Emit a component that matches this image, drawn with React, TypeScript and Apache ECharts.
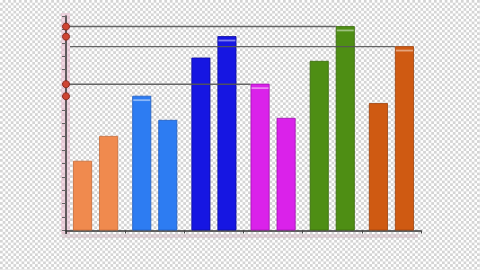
import React, { useEffect, useRef } from "react";
import * as echarts from "echarts";

// Data
const categories = ["1", "2", "3", "4", "5", "6"];
const seriesA = [5.2, 10.05, 12.9, 10.95, 12.65, 9.5];
const seriesB = [7.05, 8.25, 14.5, 8.4, 15.25, 13.75];
const yTicksMax = 16;

// markers: [categoryIndex, seriesIndex]
const highlightBars = [
  [1, 0],
  [2, 1],
  [3, 0],
  [4, 1],
  [5, 1],
];
const dotBars = [
  [4, 1],
  [2, 1],
  [3, 0],
  [1, 0],
];
// [categoryIndex, seriesIndex, startsAtAxis(1/0)]
const lineBars = [
  [4, 1, 1],
  [5, 1, 0],
  [3, 0, 1],
];

const groupColors = ["#F08A4E", "#2D7CF2", "#1616E2", "#DA22EA", "#4E8E14", "#CF5A12"];
const groupBorders = ["#c86a35", "#1e5cc0", "#0c0ca0", "#a010b0", "#386a0a", "#9c400a"];

const BAR_W = 19;
const BAR_GAP_PCT = 37;

function barLeft(center: number, s: number) {
  const gap = (BAR_W * BAR_GAP_PCT) / 100;
  const total = 2 * BAR_W + gap;
  return center - total / 2 + s * (BAR_W + gap);
}

const valueOf = (cat: number, s: number) => (s === 0 ? seriesA[cat] : seriesB[cat]);

export default function App() {
  const ref = useRef<HTMLDivElement>(null);
  useEffect(() => {
    if (!ref.current) return;
    const chart = echarts.init(ref.current, undefined, { renderer: "svg" });
    const mkBar = (vals: number[]) =>
      vals.map((v, i) => ({
        value: v,
        itemStyle: { color: groupColors[i], borderColor: groupBorders[i], borderWidth: 0.8 },
      }));
    chart.setOption({
      animation: false,
      backgroundColor: "transparent",
      grid: { left: 66, top: 16, width: 355, bottom: 39.5 },
      xAxis: {
        type: "category",
        data: categories,
        boundaryGap: true,
        offset: 3,
        axisLine: { show: true, lineStyle: { color: "#333", width: 1.5 } },
        axisTick: { show: true, length: 3, lineStyle: { color: "#444", width: 1 } },
        axisLabel: { show: false },
        splitLine: { show: false },
      },
      yAxis: {
        type: "value",
        min: 0,
        max: yTicksMax,
        interval: 1,
        axisLine: { show: true, lineStyle: { color: "#333", width: 1.5 } },
        axisTick: { show: true, length: 4, lineStyle: { color: "#666", width: 1 } },
        axisLabel: { show: false },
        splitLine: { show: false },
      },
      graphic: [
        {
          type: "rect",
          z: -1,
          shape: { x: 61, y: 13, width: 9, height: 221 },
          style: { fill: "rgba(232,180,202,0.5)" },
        },
        {
          type: "rect",
          z: -1,
          shape: { x: 62, y: 234, width: 356, height: 4 },
          style: { fill: "rgba(200,170,182,0.4)" },
        },
        {
          type: "line",
          z: 1,
          shape: { x1: 66, y1: 230, x2: 66, y2: 234 },
          style: { stroke: "#333", lineWidth: 1.5 },
        },
      ],
      series: [
        {
          type: "bar",
          data: mkBar(seriesA),
          barWidth: BAR_W,
          barGap: BAR_GAP_PCT + "%",
          z: 2,
        },
        {
          type: "bar",
          data: mkBar(seriesB),
          barWidth: BAR_W,
          barGap: BAR_GAP_PCT + "%",
          z: 2,
        },
        {
          type: "custom",
          z: 3,
          clip: false,
          data: highlightBars.map(([c, s]) => [c, valueOf(c, s), s]),
          encode: { x: 0, y: 1 },
          renderItem: (params: any, api: any) => {
            const c = api.value(0);
            const s = api.value(2);
            const p = api.coord([c, api.value(1)]);
            const x = barLeft(p[0], s);
            return {
              type: "rect",
              shape: { x: x + 1, y: p[1] + 3.5, width: BAR_W - 2, height: 1.8 },
              style: { fill: "rgba(255,255,255,0.45)" },
            };
          },
        },
        {
          type: "custom",
          z: 4,
          clip: false,
          data: lineBars.map(([c, s, a]) => [c, valueOf(c, s), s, a]),
          encode: { x: 0, y: 1 },
          renderItem: (params: any, api: any) => {
            const c = api.value(0);
            const s = api.value(2);
            const atAxis = api.value(3);
            const p = api.coord([c, api.value(1)]);
            const x0 = params.coordSys.x + (atAxis ? 0 : 4);
            const y = p[1] + 0.5;
            return {
              type: "line",
              shape: { x1: x0, y1: y, x2: barLeft(p[0], s), y2: y },
              style: { stroke: "#555", lineWidth: 1.4, opacity: 0.9 },
            };
          },
        },
        {
          type: "custom",
          z: 5,
          clip: false,
          data: dotBars.map(([c, s]) => [c, valueOf(c, s), s]),
          encode: { x: 0, y: 1 },
          renderItem: (params: any, api: any) => {
            const p = api.coord([api.value(0), api.value(1)]);
            return {
              type: "circle",
              shape: { cx: params.coordSys.x, cy: p[1] + 0.5, r: 3.5 },
              style: { fill: "#cf4433", stroke: "#8a2a1e", lineWidth: 1 },
            };
          },
        },
      ],
    });
    return () => chart.dispose();
  }, []);

  return (
    <div
      style={{
        position: "fixed",
        left: 0,
        top: 0,
        width: 480,
        height: 270,
        backgroundImage:
          "conic-gradient(#d4d4d4 25%, #ffffff 0 50%, #d4d4d4 0 75%, #ffffff 0)",
        backgroundSize: "5.4px 5.4px",
      }}
    >
      <div ref={ref} style={{ width: 480, height: 270 }} />
    </div>
  );
}
